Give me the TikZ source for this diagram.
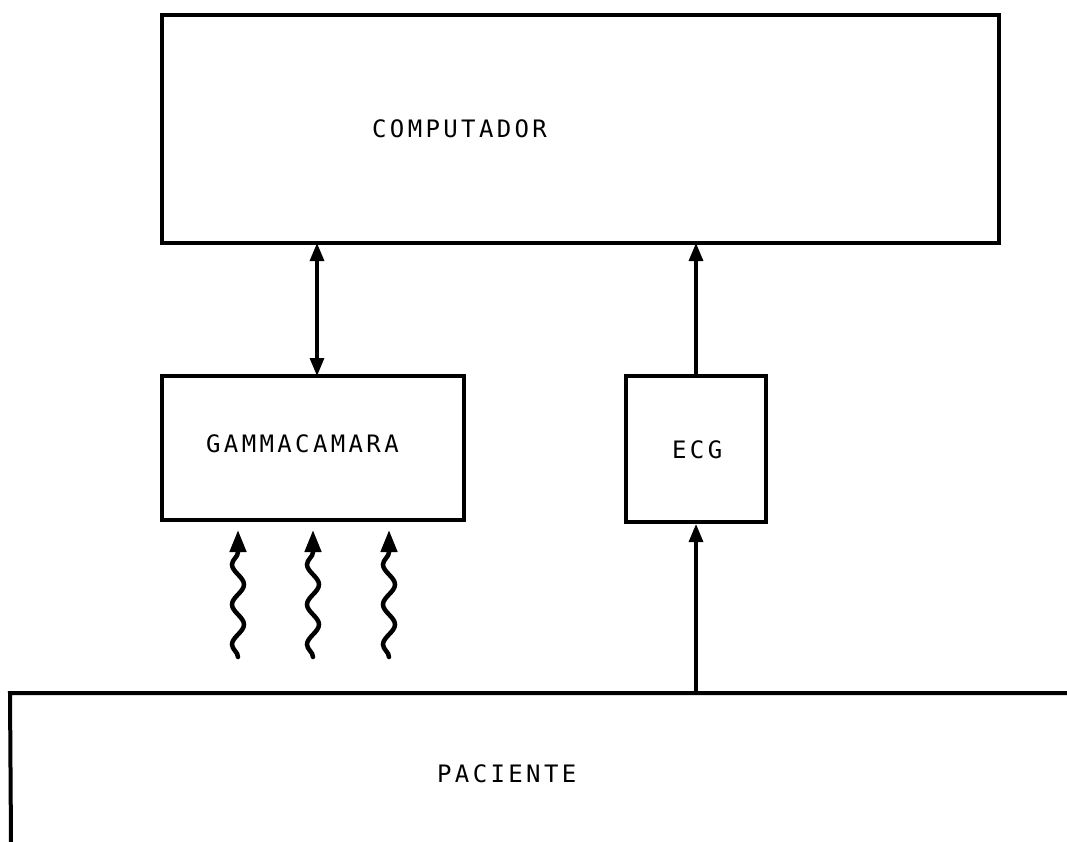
\documentclass[tikz,border=0pt]{standalone}
\usepackage{fontspec}
\newfontfamily\plotfont[LetterSpace=14]{DejaVu Sans Mono}
\usetikzlibrary{arrows.meta,decorations.pathmorphing}
\begin{document}
\begin{tikzpicture}[x=1pt,y=-1pt,
  box/.style={draw, line width=4pt, inner sep=0pt},
  lbl/.style={font={\plotfont\fontsize{24}{24}\selectfont}, inner sep=0pt, anchor=west},
  conn/.style={line width=3.2pt},
  tipa/.style={-{Triangle[length=18pt,width=14pt]}},
  tipb/.style={{Triangle[length=18pt,width=14pt]}-{Triangle[length=18pt,width=14pt]}},
  wave/.style={line width=4.5pt, line cap=round, decorate,
    decoration={snake, amplitude=6pt, segment length=40pt, post length=22pt}},
  wtip/.style={-{Triangle[length=22pt,width=16pt]}}]
\useasboundingbox (0,0) rectangle (1067,842);
% boxes
\node[box, minimum width=837pt, minimum height=228pt] (comp) at (580.5,129.5) {};
\node[box, minimum width=302pt, minimum height=144pt] (gamma) at (313,448) {};
\node[box, minimum width=140pt, minimum height=146pt] (ecg) at (696,449) {};
% labels
\node[lbl] (tcomp) at (372,129) {COMPUTADOR};
\node[lbl] (tgamma) at (206,444) {GAMMACAMARA};
\node[lbl] (tecg) at (672,450) {ECG};
\node[lbl] (tpac) at (437,774) {PACIENTE};
% patient
\coordinate (pl) at (10,693);
\coordinate (pr) at (1067,693);
\coordinate (pb) at (11,842);
\draw[line width=4pt] (pr) -- (pl) -- (pb);
\coordinate (pe) at (696,693);
% connectors
\coordinate (gtop) at (317,243);
\coordinate (gbot) at (317,376);
\draw[conn,tipb] (gtop) -- (gbot);
\coordinate (etop) at (696,243);
\draw[conn,tipa] (ecg.north) -- (etop);
\draw[conn,tipa] (pe) -- (ecg.south);
% wavy arrows
\coordinate (w1b) at (238,657); \coordinate (w1t) at (238,530);
\coordinate (w2b) at (313,657); \coordinate (w2t) at (313,530);
\coordinate (w3b) at (389,657); \coordinate (w3t) at (389,530);
\foreach \b/\t in {w1b/w1t,w2b/w2t,w3b/w3t}
  \draw[wave,wtip] (\b) -- (\t);
\end{tikzpicture}
\end{document}
